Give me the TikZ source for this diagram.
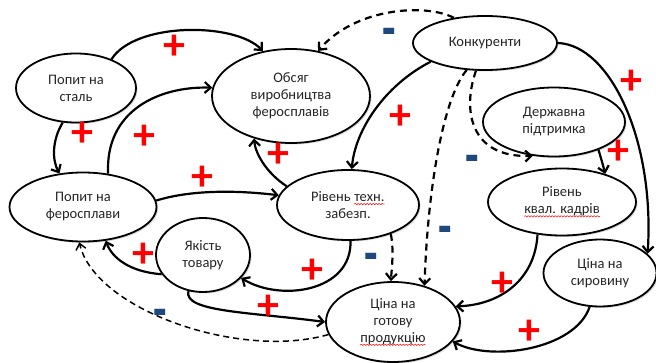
\documentclass[tikz,border=0pt]{standalone}
\usepackage{fontspec}
\setmainfont{Carlito}
\usetikzlibrary{arrows.meta,shapes.geometric,decorations.pathmorphing,shadows}

\definecolor{plusred}{RGB}{255,0,0}
\definecolor{minusblue}{RGB}{31,73,125}
\definecolor{inkgray}{RGB}{38,38,38}

% red wavy underline under a word
\newcommand{\wavy}[1]{\tikz[baseline=(w.base)]{%
  \node[inner sep=0pt,outer sep=0pt,draw=none,fill=none,shape=rectangle,
        minimum width=0pt,minimum height=0pt](w){#1};
  \draw[plusred,line width=0.5pt,decorate,decoration={snake,amplitude=0.7pt,segment length=3pt}]
    ([yshift=-2.6pt]w.base west) -- ([yshift=-2.6pt]w.base east);}}

\begin{document}
\begin{tikzpicture}[x=1pt,y=-1pt,
  bubble/.style={ellipse,draw=black,line width=1.8pt,fill=white,inner sep=0pt,
    align=center,text=inkgray,font=\fontsize{14.5}{17}\selectfont,
    drop shadow={shadow xshift=1.5pt,shadow yshift=-1.5pt,opacity=0.25,fill=black!60}},
  link/.style={line width=2.2pt,-{Straight Barb[length=6pt,width=11pt]}},
  dlink/.style={link,dash pattern=on 7pt off 5pt},
  dlinkthin/.style={line width=1.5pt,dash pattern=on 6pt off 4pt,-{Straight Barb[length=6pt,width=10pt]}},
  plussign/.style={text=plusred,font=\fontsize{44}{44}\selectfont\bfseries,inner sep=0pt},
  minussign/.style={text=minusblue,font=\fontsize{20}{20}\selectfont\bfseries,inner sep=0pt,yshift=-8pt}]

\useasboundingbox (0,0) rectangle (656,363);

% factors
\node[bubble,minimum width=120pt,minimum height=69pt] (stal)   at (76,88)   {Попит на\\сталь};
\node[bubble,minimum width=158pt,minimum height=94pt] (obsyag) at (291,96)  {Обсяг\\виробництва\\феросплавів};
\node[bubble,minimum width=144pt,minimum height=54pt] (konk)   at (485,43)  {Конкуренти};
\node[bubble,minimum width=142pt,minimum height=69pt] (derzh)  at (554,122) {Державна\\підтримка};
\node[bubble,minimum width=147pt,minimum height=69pt] (fero)   at (83,207)  {Попит на\\феросплави};
\node[bubble,minimum width=142pt,minimum height=70pt] (tekhn)  at (348,205) {Рівень \wavy{техн.}\\забезп.};
\node[bubble,minimum width=94pt,minimum height=74pt]  (yakist) at (203,255) {Якість\\товару};
\node[bubble,minimum width=148pt,minimum height=67pt] (kadry)  at (562,202) {Рівень\\\wavy{квал. кадрів}};
\node[bubble,minimum width=113pt,minimum height=67pt] (syrov)  at (600,273) {Ціна на\\сировину};
\node[bubble,minimum width=134pt,minimum height=80pt] (tsina)  at (393,322) {Ціна на\\готову\\\wavy{продукцію}};

% positive links
\draw[link] (stal.39) .. controls (135,22) and (235,22) .. (obsyag.122);
\draw[link] (stal.249) .. controls (52,140) and (52,160) .. (fero.125);
\draw[link] (fero.53) .. controls (105,110) and (160,86) .. (obsyag.174);
\draw[link] (tekhn.163) .. controls (265,172) and (255,152) .. (obsyag.229);
\draw[link] (fero.5) .. controls (190,190) and (235,190) .. (tekhn.172);
\draw[link] (konk.199) .. controls (385,85) and (355,130) .. (tekhn.84);
\draw[link] (konk.0) .. controls (610,45) and (655,140) .. (syrov.22);
\draw[link] (derzh.328) .. controls (600,155) and (603,165) .. (kadry.33);
\draw[link] (kadry.233) .. controls (535,280) and (500,305) .. (tsina.14);
\draw[link] (syrov.253) .. controls (575,350) and (490,362) .. (tsina.342);
\draw[link] (tekhn.274) .. controls (352,292) and (280,302) .. (yakist.329);
\draw[link] (yakist.205) .. controls (130,272) and (112,258) .. (fero.304);
\draw[link] (yakist.248) .. controls (183,312) and (250,312) .. (tsina.180);

% negative links
\draw[dlink] (konk.141) .. controls (425,3) and (355,8) .. (obsyag.59);
\draw[dlink] (konk.236) .. controls (445,95) and (428,180) .. (tsina.49);
\draw[dlink] (konk.252) .. controls (462,110) and (470,158) .. (derzh.238);
\draw[dlink] (tekhn.326) .. controls (394,250) and (392,265) .. (tsina.93);
\draw[dlinkthin] (tsina.191) .. controls (240,360) and (95,310) .. (fero.264);

% signs
\node[plussign] (p1)  at (174,47)  {+};
\node[plussign] (p2)  at (82,134)  {+};
\node[plussign] (p3)  at (144,137) {+};
\node[plussign] (p4)  at (278,155) {+};
\node[plussign] (p5)  at (202,178) {+};
\node[plussign] (p6)  at (400,117) {+};
\node[plussign] (p7)  at (631,82)  {+};
\node[plussign] (p8)  at (618,152) {+};
\node[plussign] (p9)  at (502,284) {+};
\node[plussign] (p10) at (529,332) {+};
\node[plussign] (p11) at (312,271) {+};
\node[plussign] (p12) at (143,255) {+};
\node[plussign] (p13) at (268,307) {+};
\node[minussign] (n1) at (389,30)  {\scalebox{2.2}[3]{-}};
\node[minussign] (n2) at (472,157) {\scalebox{2.2}[3]{-}};
\node[minussign] (n3) at (445,228) {\scalebox{2.2}[3]{-}};
\node[minussign] (n4) at (371,255) {\scalebox{2.2}[3]{-}};
\node[minussign] (n5) at (160,311) {\scalebox{2.2}[3]{-}};
\end{tikzpicture}
\end{document}
